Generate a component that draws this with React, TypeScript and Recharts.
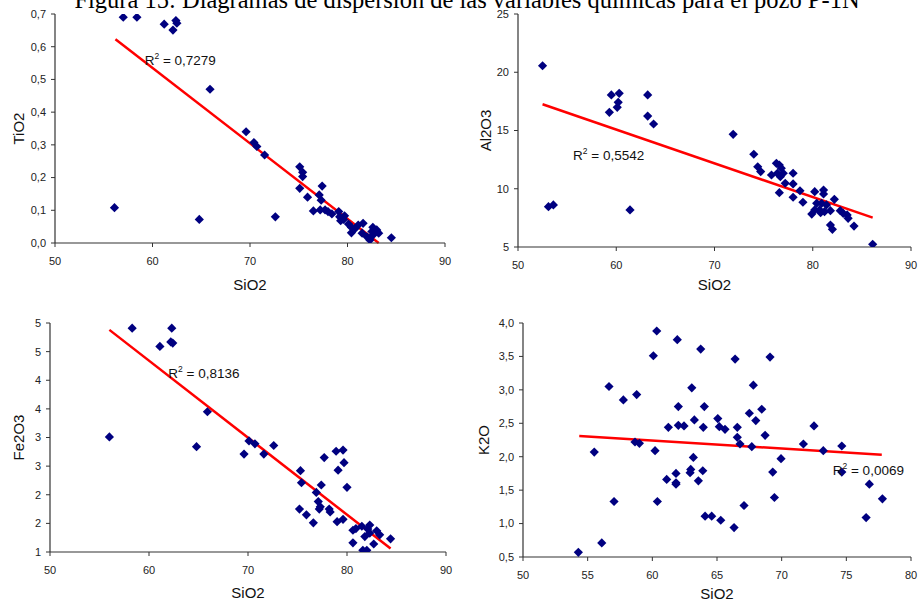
import React from "react";
import { ScatterChart, Scatter, XAxis, YAxis, ReferenceLine } from "recharts";

// ---------- Data ----------
const titleText = "Figura 15: Diagramas de dispersión de las variables químicas para el pozo P-1N";

const tio2Pts: [number, number][] = [
  [57.0, 0.69], [58.4, 0.69], [61.2, 0.669], [62.1, 0.651], [62.4, 0.68], [62.5, 0.672],
  [65.9, 0.47], [69.6, 0.34], [70.4, 0.307], [70.7, 0.295], [71.5, 0.269], [75.1, 0.233],
  [75.4, 0.216], [75.4, 0.203], [75.1, 0.167], [75.9, 0.14], [77.4, 0.174], [77.1, 0.147],
  [77.3, 0.131], [76.5, 0.098], [77.2, 0.101], [77.7, 0.101], [78.0, 0.096], [78.4, 0.089],
  [79.1, 0.096], [79.2, 0.08], [79.6, 0.072], [79.7, 0.083], [79.3, 0.068], [80.1, 0.058],
  [80.4, 0.048], [80.4, 0.031], [80.8, 0.045], [81.1, 0.055], [81.6, 0.06], [81.5, 0.03],
  [82.0, 0.019], [82.3, 0.009], [82.6, 0.048], [83.0, 0.04], [83.2, 0.03], [82.6, 0.024],
  [82.5, 0.035], [84.5, 0.016], [72.6, 0.08], [56.1, 0.108], [64.8, 0.072],
];

const al2o3Pts: [number, number][] = [
  [52.5, 20.56], [59.5, 18.05], [60.3, 18.19], [60.2, 17.42], [60.1, 16.99], [59.3, 16.56],
  [63.2, 18.05], [63.2, 16.24], [63.8, 15.56], [71.9, 14.67], [53.1, 8.46], [53.6, 8.61],
  [61.4, 8.18], [74.0, 12.96], [74.4, 11.89], [74.7, 11.47], [75.8, 11.18], [76.3, 12.18],
  [76.6, 12.04], [76.8, 11.76], [76.4, 11.33], [77.0, 11.33], [76.7, 11.03], [78.0, 11.33],
  [77.2, 10.47], [78.0, 10.41], [76.6, 9.66], [78.7, 9.83], [78.0, 9.27], [79.0, 8.84],
  [80.2, 9.75], [81.1, 9.89], [81.1, 9.55], [82.2, 9.09], [80.4, 8.75], [80.9, 8.75],
  [81.4, 8.61], [80.2, 8.18], [80.7, 8.18], [81.2, 8.03], [79.9, 7.83], [80.8, 7.94],
  [81.8, 8.12], [82.8, 8.12], [83.1, 7.89], [83.5, 7.75], [83.6, 7.46], [84.2, 6.8],
  [81.8, 6.89], [82.0, 6.52], [86.1, 5.23],
];

const fe2o3Pts: [number, number][] = [
  [58.3, 4.91], [62.3, 4.91], [61.1, 4.59], [62.2, 4.67], [62.4, 4.65], [65.9, 3.45],
  [56.0, 3.01], [64.8, 2.84], [70.1, 2.94], [70.7, 2.89], [72.6, 2.86], [69.6, 2.71],
  [71.6, 2.71], [77.7, 2.65], [78.9, 2.76], [79.6, 2.78], [79.7, 2.56], [79.1, 2.43],
  [75.3, 2.42], [75.4, 2.21], [77.4, 2.17], [80.0, 2.13], [76.9, 2.04], [77.1, 1.88],
  [77.3, 1.79], [77.2, 1.75], [78.2, 1.75], [78.3, 1.7], [75.2, 1.75], [75.9, 1.65],
  [76.6, 1.51], [79.0, 1.53], [79.6, 1.57], [80.6, 1.38], [80.9, 1.41], [81.5, 1.45],
  [82.3, 1.47], [82.1, 1.4], [82.3, 1.33], [83.0, 1.37], [83.3, 1.3], [84.4, 1.23],
  [82.7, 1.14], [80.6, 1.16], [81.6, 1.03], [82.0, 1.03], [81.8, 1.27],
];

const k2oPts: [number, number][] = [
  [60.34, 3.88], [60.08, 3.51], [61.93, 3.75], [63.74, 3.61], [66.4, 3.46], [69.1, 3.49],
  [56.65, 3.05], [57.76, 2.85], [58.79, 2.93], [63.05, 3.03], [67.81, 3.07], [62.01, 2.75],
  [64.02, 2.75], [67.5, 2.65], [68.46, 2.71], [61.24, 2.44], [62.01, 2.47], [62.45, 2.46],
  [63.25, 2.55], [63.94, 2.44], [65.06, 2.57], [65.18, 2.45], [65.62, 2.41], [66.57, 2.44],
  [68.0, 2.54], [68.72, 2.32], [72.5, 2.46], [58.66, 2.22], [59.0, 2.2], [66.57, 2.29],
  [66.78, 2.19], [67.69, 2.15], [71.68, 2.19], [74.65, 2.16], [55.51, 2.07], [60.21, 2.09],
  [63.17, 1.99], [62.97, 1.81], [62.92, 1.76], [63.9, 1.79], [61.83, 1.75], [61.11, 1.66],
  [61.83, 1.61], [61.83, 1.59], [63.56, 1.64], [57.04, 1.33], [60.39, 1.33], [64.08, 1.11],
  [64.59, 1.11], [65.29, 1.05], [66.32, 0.94], [67.09, 1.27], [56.09, 0.71], [54.28, 0.57],
  [69.31, 1.77], [69.44, 1.39], [69.95, 1.97], [73.22, 2.09], [74.65, 1.77], [76.78, 1.59],
  [76.53, 1.09], [77.79, 1.37],
];

// trend line end points
const tio2Trend: [number, number][] = [[56.2, 0.623], [83.2, 0.0]];
const al2o3Trend: [number, number][] = [[52.5, 17.25], [86.1, 7.52]];
const fe2o3Trend: [number, number][] = [[56.0, 4.88], [84.4, 1.06]];
const k2oTrend: [number, number][] = [[54.35, 2.31], [77.74, 2.03]];

// R² labels: [x, y, text]
const tio2R2: [number, number, string] = [59.2, 0.56, "0,7279"];
const al2o3R2: [number, number, string] = [55.6, 12.9, "0,5542"];
const fe2o3R2: [number, number, string] = [61.95, 4.12, "0,8136"];
const k2oR2: [number, number, string] = [73.95, 1.8, "0,0069"];

// ticks
const sio2Ticks = [50, 60, 70, 80, 90];
const sio2TicksK = [50, 55, 60, 65, 70, 75, 80];
const tio2Ticks = [0, 0.1, 0.2, 0.3, 0.4, 0.5, 0.6, 0.7];
const al2o3Ticks = [5, 10, 15, 20, 25];
const fe2o3Ticks = [1, 1.5, 2, 2.5, 3, 3.5, 4, 4.5, 5];
const k2oTicks = [0.5, 1, 1.5, 2, 2.5, 3, 3.5, 4];

// ---------- Helpers ----------
const SANS = "'Liberation Sans', Arial, Helvetica, sans-serif";
const toPts = (arr: [number, number][]) => arr.map(([x, y]) => ({ x, y }));

const Diamond = (props: any) => {
  const { cx, cy } = props;
  if (cx == null || cy == null) return <g />;
  const s = 4.6;
  return (
    <polygon
      points={`${cx},${cy - s} ${cx + s},${cy} ${cx},${cy + s} ${cx - s},${cy}`}
      fill="#000080"
    />
  );
};

const R2Shape = (props: any) => {
  const { cx, cy, payload } = props;
  if (cx == null || cy == null) return <g />;
  return (
    <text x={cx} y={cy + 5} fontSize={13.5} fontFamily={SANS} fill="#111">
      R
      <tspan fontSize={8.5} dy={-6}>2</tspan>
      <tspan dy={6}>{" = " + payload.label}</tspan>
    </text>
  );
};

const fmt1 = (v: number) => v.toFixed(1).replace(".", ",");
const fmt0 = (v: number) => String(Math.round(v));

type PanelProps = {
  left: number; top: number; width: number; height: number;
  yAxisWidth: number; mt: number; mr: number; xAxisH: number;
  xDomain: [number, number]; xTicks: number[];
  yDomain: [number, number]; yTicks: number[]; yFmt: (v: number) => string;
  pts: [number, number][]; trend: [number, number][]; r2: [number, number, string];
  yLabel: string; yLabelX: number; xLabelY: number;
};

const Panel = (p: PanelProps) => {
  const data = toPts(p.pts);
  const r2Data = [{ x: p.r2[0], y: p.r2[1], label: p.r2[2] }];
  const plotCenterY = p.mt + (p.height - p.mt - p.xAxisH) / 2;
  const plotCenterX = p.yAxisWidth + (p.width - p.yAxisWidth - p.mr) / 2;
  return (
    <div style={{ position: "absolute", left: p.left, top: p.top }}>
      <ScatterChart
        width={p.width}
        height={p.height}
        margin={{ top: p.mt, right: p.mr, bottom: 0, left: 0 }}
      >
        <XAxis
          type="number"
          dataKey="x"
          domain={p.xDomain}
          ticks={p.xTicks}
          interval={0}
          height={p.xAxisH}
          tickSize={4}
          tickMargin={10}
          tick={{ fontSize: 11, fill: "#222", fontFamily: SANS }}
          axisLine={{ stroke: "#333", strokeWidth: 1.2 }}
          tickLine={{ stroke: "#333" }}
          allowDataOverflow
        />
        <YAxis
          type="number"
          dataKey="y"
          domain={p.yDomain}
          ticks={p.yTicks}
          interval={0}
          width={p.yAxisWidth}
          tickSize={4}
          tickMargin={5}
          tickFormatter={p.yFmt}
          tick={{ fontSize: 11, fill: "#222", fontFamily: SANS }}
          axisLine={{ stroke: "#333", strokeWidth: 1.2 }}
          tickLine={{ stroke: "#333" }}
          allowDataOverflow
        />
        <Scatter data={data} shape={<Diamond />} isAnimationActive={false} />
        <ReferenceLine
          segment={[
            { x: p.trend[0][0], y: p.trend[0][1] },
            { x: p.trend[1][0], y: p.trend[1][1] },
          ]}
          stroke="#ff0000"
          strokeWidth={2.5}
          ifOverflow="visible"
        />
        <Scatter data={r2Data} shape={<R2Shape />} isAnimationActive={false} />
      </ScatterChart>
      <svg
        width={p.width}
        height={p.height}
        style={{ position: "absolute", left: 0, top: 0, pointerEvents: "none" }}
      >
        <text
          x={p.yLabelX}
          y={plotCenterY}
          transform={`rotate(-90 ${p.yLabelX} ${plotCenterY})`}
          textAnchor="middle"
          dominantBaseline="central"
          fontSize={15}
          fontFamily={SANS}
          fill="#111"
        >
          {p.yLabel}
        </text>
        <text
          x={plotCenterX}
          y={p.xLabelY}
          textAnchor="middle"
          fontSize={15}
          fontFamily={SANS}
          fill="#111"
        >
          SiO2
        </text>
      </svg>
    </div>
  );
};

export default function App() {
  return (
    <div
      style={{
        position: "absolute",
        left: 0,
        top: 0,
        width: 922,
        height: 604,
        background: "#fff",
        overflow: "hidden",
      }}
    >
      <Panel
        left={0} top={0} width={460} height={300}
        yAxisWidth={55} mt={14} mr={15} xAxisH={57}
        xDomain={[50, 90]} xTicks={sio2Ticks}
        yDomain={[0, 0.7]} yTicks={tio2Ticks} yFmt={fmt1}
        pts={tio2Pts} trend={tio2Trend} r2={tio2R2}
        yLabel="TiO2" yLabelX={18} xLabelY={290}
      />
      <Panel
        left={460} top={0} width={462} height={300}
        yAxisWidth={58} mt={14} mr={11} xAxisH={53}
        xDomain={[50, 90]} xTicks={sio2Ticks}
        yDomain={[5, 25]} yTicks={al2o3Ticks} yFmt={fmt0}
        pts={al2o3Pts} trend={al2o3Trend} r2={al2o3R2}
        yLabel="Al2O3" yLabelX={25} xLabelY={290}
      />
      <Panel
        left={0} top={300} width={460} height={304}
        yAxisWidth={50} mt={23} mr={14} xAxisH={52}
        xDomain={[50, 90]} xTicks={sio2Ticks}
        yDomain={[1, 5]} yTicks={fe2o3Ticks} yFmt={fmt0}
        pts={fe2o3Pts} trend={fe2o3Trend} r2={fe2o3R2}
        yLabel="Fe2O3" yLabelX={18} xLabelY={298}
      />
      <Panel
        left={460} top={300} width={462} height={304}
        yAxisWidth={63} mt={23} mr={11} xAxisH={47}
        xDomain={[50, 80]} xTicks={sio2TicksK}
        yDomain={[0.5, 4]} yTicks={k2oTicks} yFmt={fmt1}
        pts={k2oPts} trend={k2oTrend} r2={k2oR2}
        yLabel="K2O" yLabelX={23} xLabelY={299}
      />
      <svg
        width={922}
        height={30}
        style={{ position: "absolute", left: 0, top: 0, pointerEvents: "none" }}
      >
        <text
          x={467}
          y={8}
          textAnchor="middle"
          fontSize={24.5}
          fontFamily="'Liberation Serif', 'Times New Roman', serif"
          fill="#000"
        >
          {titleText}
        </text>
      </svg>
    </div>
  );
}
